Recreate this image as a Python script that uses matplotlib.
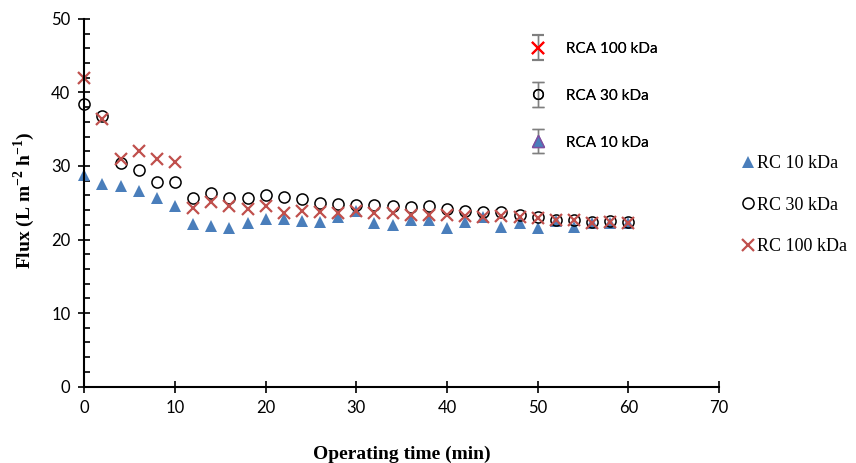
import numpy as np
import matplotlib
matplotlib.use("Agg")
import matplotlib.pyplot as plt
from matplotlib.legend_handler import HandlerErrorbar

plt.rcParams['mathtext.fontset'] = 'custom'
plt.rcParams['mathtext.rm'] = 'Liberation Serif'
plt.rcParams['mathtext.bf'] = 'Liberation Serif:bold'

# operating time (min)
time = np.arange(0, 62, 2)

# flux values
rc_10 = [28.8, 27.6, 27.3, 26.6, 25.6, 24.6, 22.1, 21.8, 21.6, 22.2, 22.8, 22.8, 22.5, 22.4, 23.0, 23.9,
         22.3, 22.0, 22.7, 22.7, 21.5, 22.4, 23.1, 21.7, 22.2, 21.5, 22.5, 21.7, 22.3, 22.3, 22.3]
rc_30 = [38.5, 36.8, 30.4, 29.5, 27.8, 27.8, 25.6, 26.3, 25.7, 25.6, 26.1, 25.8, 25.5, 25.0, 24.8, 24.7,
         24.7, 24.6, 24.4, 24.5, 24.1, 23.9, 23.8, 23.8, 23.3, 23.1, 22.7, 22.7, 22.4, 22.5, 22.4]
rc_100 = [42.0, 36.4, 31.0, 32.1, 31.0, 30.5, 24.3, 25.1, 24.5, 24.2, 24.5, 23.6, 23.9, 23.7, 23.6, 23.9,
          23.6, 23.6, 23.3, 23.4, 23.4, 23.2, 23.1, 23.2, 23.1, 22.9, 22.6, 22.6, 22.3, 22.4, 22.3]

blue = '#4a7ebb'
red = '#c0504d'

fig = plt.figure(figsize=(8.56, 4.63), dpi=100)
ax = fig.add_axes([0.0985, 0.1652, 0.7415, 0.7938])

# RCA series only appear in the legend
h_rca100 = ax.errorbar([np.nan], [np.nan], yerr=[1], fmt='x', color='#ff0000', ms=8, mew=1.5,
                       ecolor='#7f7f7f', elinewidth=1, capsize=4, label='RCA 100 kDa')
h_rca30 = ax.errorbar([np.nan], [np.nan], yerr=[1], fmt='o', mfc='none', mec='black', ms=7, mew=1,
                      ecolor='#7f7f7f', elinewidth=1, capsize=4, label='RCA 30 kDa')
h_rca10 = ax.errorbar([np.nan], [np.nan], yerr=[1], fmt='^', mfc=blue, mec='#7f4fa0', ms=8, mew=1,
                      ecolor='#7f7f7f', elinewidth=1, capsize=4, label='RCA 10 kDa')

h10, = ax.plot(time, rc_10, '^', color=blue, ms=8.5, mew=0, label='RC 10 kDa', clip_on=False)
h30, = ax.plot(time, rc_30, 'o', mfc='none', mec='black', ms=8, mew=1.1, label='RC 30 kDa',
               clip_on=False)
h100, = ax.plot(time, rc_100, 'x', color=red, ms=8, mew=1.6, label='RC 100 kDa', clip_on=False)

ax.set_xlim(0, 70)
ax.set_ylim(0, 50)
ax.set_xticks(range(0, 80, 10))
ax.set_yticks(range(0, 60, 10))
ax.set_yticks(range(0, 52, 2), minor=True)

for s in ['top', 'right']:
    ax.spines[s].set_visible(False)
for s in ['left', 'bottom']:
    ax.spines[s].set_linewidth(1.5)

ax.tick_params(which='major', direction='inout', length=8, width=1.2, labelsize=12, pad=6)
ax.tick_params(axis='y', which='minor', direction='in', length=4, width=1.2)
for lab in ax.get_xticklabels() + ax.get_yticklabels():
    lab.set_family('Lato')

ax.set_xlabel('Operating time (min)', family='Liberation Serif', fontweight='bold', fontsize=14)
ax.xaxis.set_label_coords(0.5, -0.162)
ax.set_ylabel(r'Flux (L m$^{\mathbf{-2}}$ h$^{\mathbf{-1}}$)', family='Liberation Serif',
              fontweight='bold', fontsize=14)
ax.yaxis.set_label_coords(-0.074, 0.507)

leg1 = ax.legend([h_rca100, h_rca30, h_rca10], ['RCA 100 kDa', 'RCA 30 kDa', 'RCA 10 kDa'],
                 loc='upper left', bbox_to_anchor=(0.675, 0.975), frameon=False,
                 prop={'family': 'Lato', 'size': 11}, labelspacing=2.15, handlelength=1.5,
                 handletextpad=1.1, handler_map={type(h_rca100): HandlerErrorbar(xerr_size=0.8)})
ax.add_artist(leg1)

fig.legend([h10, h30, h100], ['RC 10 kDa', 'RC 30 kDa', 'RC 100 kDa'],
           loc='upper left', bbox_to_anchor=(0.848, 0.70), frameon=False,
           prop={'family': 'Liberation Serif', 'size': 13}, labelspacing=1.35,
           handlelength=0.6, handletextpad=0.2)

fig.savefig('out.png', dpi=100)
